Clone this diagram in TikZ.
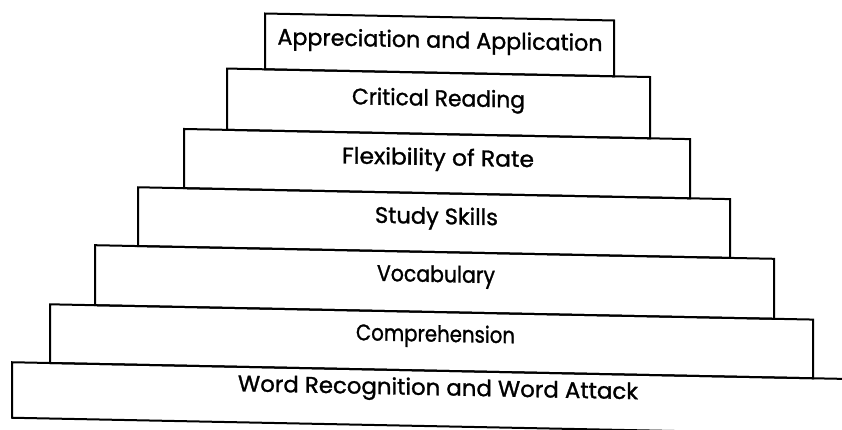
\documentclass[tikz,border=0pt]{standalone}
\usepackage{fontspec}
\setmainfont{Poppins}
\newfontfamily\labfont{Poppins}[FakeBold=1.2]
\usepackage{graphicx}
\newsavebox\labbox
\newlength\lablen
\newcommand\fitlab[2]{\sbox\labbox{#2}\setlength\lablen{\wd\labbox}\pgfmathsetmacro\labfac{#1/\lablen}\scalebox{\labfac}[1]{\usebox\labbox}}
\tikzset{
  tier/.style={draw=black, line width=2pt, fill=none},
  tierlabel/.style={anchor=base, inner sep=0pt, font=\labfont\fontsize{22.5}{26}\selectfont}
}
\begin{document}
\begin{tikzpicture}[x=1pt, y=-1pt]
\useasboundingbox (0,0) rectangle (842,429);
\fill[white] (0,0) rectangle (842,429);
\clip (0,0) rectangle (842,429);
\begin{scope}[yslant=-0.02, transform shape]
  \coordinate (a1) at (265,8.2);   \coordinate (b1) at (614,64);
  \coordinate (a2) at (227,64);    \coordinate (b2) at (650,125.3);
  \coordinate (a3) at (184,125.3); \coordinate (b3) at (690,184.5);
  \coordinate (a4) at (138,184.5); \coordinate (b4) at (730,243.3);
  \coordinate (a5) at (95,243.3);  \coordinate (b5) at (774,303.3);
  \coordinate (a6) at (50,303.3);  \coordinate (b6) at (813,362);
  \coordinate (a7) at (12,362);    \coordinate (b7) at (880,417.5);
  \foreach \i in {1,...,7} { \draw[tier] (a\i) rectangle (b\i); }
  \node[tierlabel] (l1) at (440,39)    {\fitlab{325}{Appreciation and Application}};
  \node[tierlabel] (l2) at (438.5,97.2){\fitlab{173}{Critical Reading}};
  \node[tierlabel] (l3) at (438,156.5) {\fitlab{192}{Flexibility of Rate}};
  \node[tierlabel] (l4) at (436.5,215.3){\fitlab{123}{Study Skills}};
  \node[tierlabel] (l5) at (436,273.3) {\fitlab{118}{Vocabulary}};
  \node[tierlabel] (l6) at (435.5,333) {\fitlab{159}{Comprehension}};
  \node[tierlabel] (l7) at (438,386.5) {\fitlab{400}{Word Recognition and Word Attack}};
\end{scope}
\end{tikzpicture}
\end{document}
